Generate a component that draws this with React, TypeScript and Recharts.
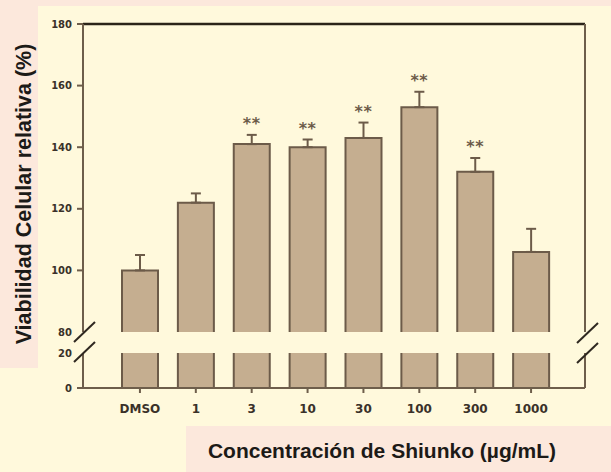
import React from "react";
import { Bar, ComposedChart, ErrorBar, LabelList, Line, ReferenceLine, XAxis, YAxis } from "recharts";

const categories = ["DMSO", "1", "3", "10", "30", "100", "300", "1000"];
const viability = [100, 122, 141, 140, 143, 153, 132, 106];
const sem = [5, 3, 3, 2.5, 5, 5, 4.5, 7.5];
const significance = ["", "", "**", "**", "**", "**", "**", ""];

const upperTicks = [80, 100, 120, 140, 160, 180];
const lowerTicks = [0, 20];

const BG = "#fff9dc";
const PINK = "#fce8dc";
const BAR_FILL = "#c5ae90";
const BAR_EDGE = "#6c5b49";
const AXIS = "#6e5e4b";
const TEXT = "#3a3129";

const rows = categories.map((name, i) => ({
  name,
  value: viability[i],
  err: [0, sem[i]],
  top: viability[i] + sem[i],
  sig: significance[i],
}));

function UpperBar(p: any) {
  const { x, y, width, height } = p;
  if (height <= 0) return null;
  return (
    <g>
      <rect x={x} y={y} width={width} height={height} fill={BAR_FILL} />
      <path
        d={`M${x},${y + height} V${y} H${x + width} V${y + height}`}
        fill="none"
        stroke={BAR_EDGE}
        strokeWidth={2}
      />
    </g>
  );
}

function LowerBar(p: any) {
  const { x, y, width, height } = p;
  return (
    <g>
      <rect x={x} y={y} width={width} height={height} fill={BAR_FILL} />
      <path d={`M${x},${y} V${y + height} M${x + width},${y} V${y + height}`} fill="none" stroke={BAR_EDGE} strokeWidth={2} />
    </g>
  );
}

function YTick(p: any) {
  const { x, y, payload } = p;
  const v = payload.value;
  return (
    <g>
      {v !== 80 && v !== 20 ? <line x1={x - 6} x2={x} y1={y} y2={y} stroke={AXIS} strokeWidth={2} /> : null}
      <text x={x - 11} y={y + 3.6} textAnchor="end" fontFamily="DejaVu Sans" fontWeight="bold" fontSize={10} fill={TEXT}>
        {v}
      </text>
    </g>
  );
}

function XTick(p: any) {
  const { x, y, payload } = p;
  return (
    <g>
      <line x1={x} x2={x} y1={y} y2={y + 5} stroke={AXIS} strokeWidth={2} />
      <text x={x} y={y + 25} textAnchor="middle" fontFamily="DejaVu Sans" fontWeight="bold" fontSize={12} fill={TEXT}>
        {payload.value}
      </text>
    </g>
  );
}

function StarLabel(p: any) {
  const { x, y, value } = p;
  if (!value) return null;
  return (
    <text x={x} y={y - 6} textAnchor="middle" fontFamily="DejaVu Sans" fontWeight="bold" fontSize={16} letterSpacing={0.5} fill={BAR_EDGE}>
      {value}
    </text>
  );
}

const xPad = { left: 29, right: 26 };

export default function App() {
  return (
    <div style={{ position: "absolute", left: 0, top: 0, width: 611, height: 472, background: BG, overflow: "hidden" }}>
      <div style={{ position: "absolute", left: 0, top: 0, width: 611, height: 6, background: PINK }} />
      <div style={{ position: "absolute", left: 0, top: 0, width: 38, height: 368, background: PINK }} />
      <div style={{ position: "absolute", left: 186, top: 426, width: 425, height: 46, background: PINK }} />

      <div style={{ position: "absolute", left: 0, top: 0 }}>
        <ComposedChart width={611} height={340} data={rows} margin={{ top: 24, right: 25, bottom: 8, left: 0 }}>
          <XAxis dataKey="name" hide padding={xPad} />
          <YAxis
            yAxisId="l"
            width={83}
            domain={[80, 180]}
            ticks={upperTicks}
            interval={0}
            type="number"
            axisLine={{ stroke: AXIS, strokeWidth: 2 }}
            tickLine={false}
            tickSize={0}
            tickMargin={0}
            tick={<YTick />}
          />
          <YAxis yAxisId="r" orientation="right" width={1} domain={[80, 180]} tick={false} tickLine={false} axisLine={{ stroke: AXIS, strokeWidth: 2 }} />
          <ReferenceLine yAxisId="l" y={180} stroke="#2b2419" strokeWidth={2.5} />
          <Bar yAxisId="l" dataKey="value" barSize={36} shape={<UpperBar />} isAnimationActive={false}>
            <ErrorBar dataKey="err" direction="y" width={5} stroke={BAR_EDGE} strokeWidth={2} isAnimationActive={false} />
          </Bar>
          <Line yAxisId="l" dataKey="top" stroke="none" dot={false} activeDot={false} isAnimationActive={false}>
            <LabelList dataKey="sig" content={<StarLabel />} />
          </Line>
        </ComposedChart>
      </div>

      <div style={{ position: "absolute", left: 0, top: 340 }}>
        <ComposedChart width={611} height={132} data={rows} margin={{ top: 13, right: 25, bottom: 54, left: 0 }}>
          <XAxis
            dataKey="name"
            height={30}
            padding={xPad}
            axisLine={{ stroke: AXIS, strokeWidth: 2 }}
            tickLine={false}
            tickSize={0}
            tickMargin={0}
            interval={0}
            tick={<XTick />}
          />
          <YAxis
            yAxisId="l"
            width={83}
            domain={[0, 20]}
            allowDataOverflow
            ticks={lowerTicks}
            interval={0}
            type="number"
            axisLine={{ stroke: AXIS, strokeWidth: 2 }}
            tickLine={false}
            tickSize={0}
            tickMargin={0}
            tick={<YTick />}
          />
          <YAxis yAxisId="r" orientation="right" width={1} domain={[0, 20]} allowDataOverflow tick={false} tickLine={false} axisLine={{ stroke: AXIS, strokeWidth: 2 }} />
          <Bar yAxisId="l" dataKey="value" barSize={36} shape={<LowerBar />} isAnimationActive={false} />
        </ComposedChart>
      </div>

      <svg width={611} height={472} style={{ position: "absolute", left: 0, top: 0, pointerEvents: "none" }}>
        <g stroke="#2f2820" strokeWidth={2}>
          <line x1={74} y1={342} x2={95} y2={322} />
          <line x1={74} y1={362} x2={95} y2={342} />
          <line x1={577} y1={343} x2={598} y2={323} />
          <line x1={577} y1={363} x2={598} y2={343} />
        </g>
        <text
          transform="translate(31,194) rotate(-90)"
          textAnchor="middle"
          fontFamily="Liberation Sans"
          fontWeight="bold"
          fontSize={21.5}
          fill="#1c1a17"
        >
          Viabilidad Celular relativa (%)
        </text>
        <text x={382} y={458} textAnchor="middle" fontFamily="Liberation Sans" fontWeight="bold" fontSize={21} fill="#1c1a17">
          Concentración de Shiunko (µg/mL)
        </text>
      </svg>
    </div>
  );
}
